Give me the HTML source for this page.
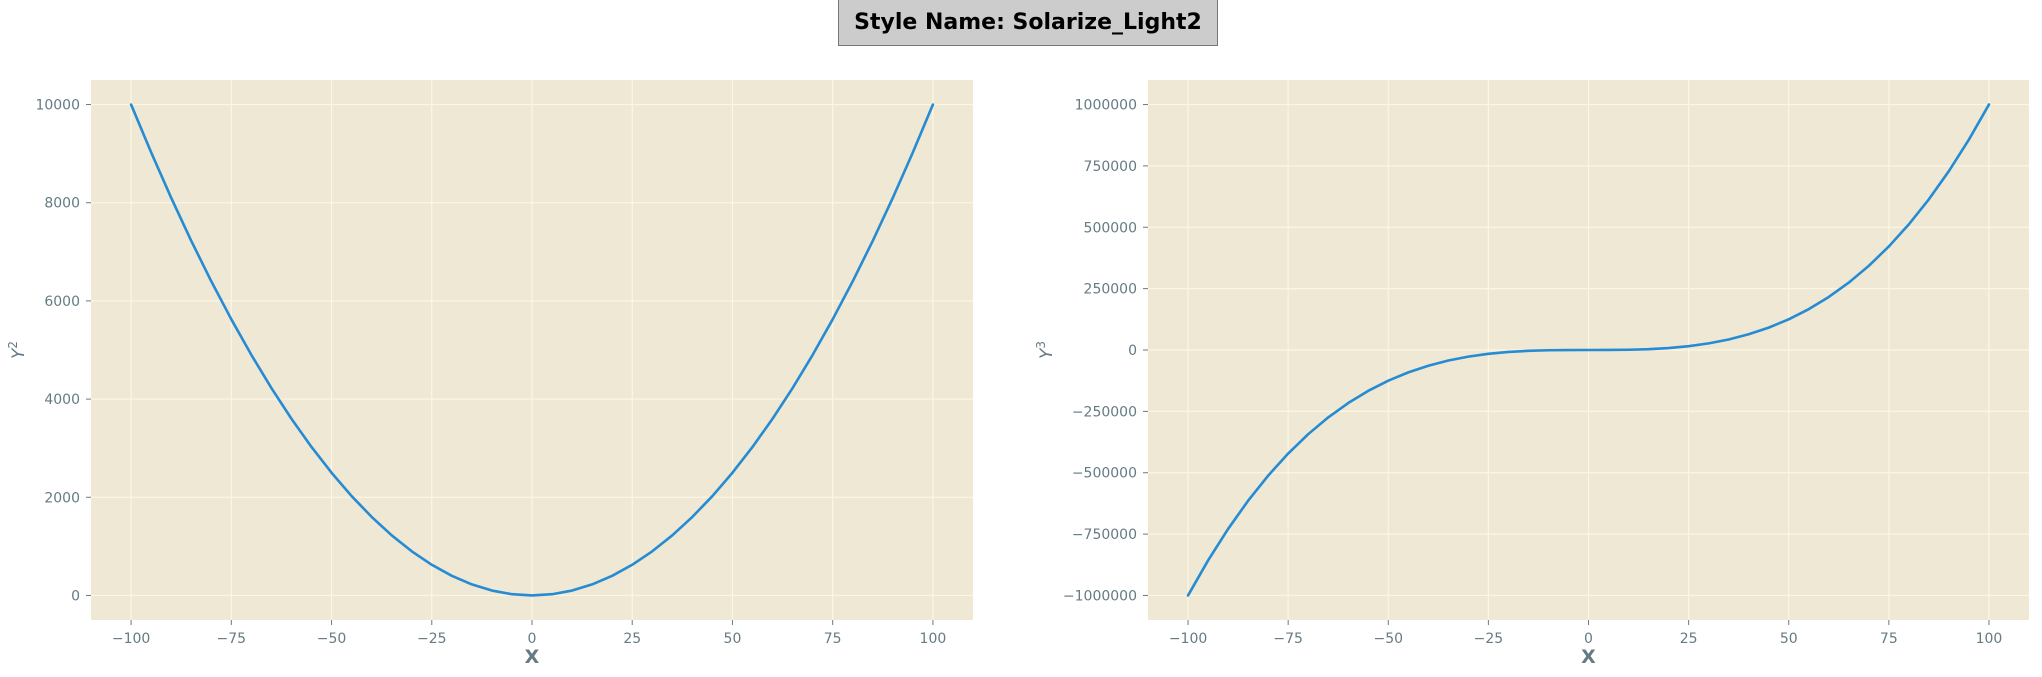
<!DOCTYPE html>
<html><head><meta charset="utf-8"><style>
html,body{margin:0;padding:0;background:#fff;width:2042px;height:677px;overflow:hidden}
svg{display:block;font-family:"DejaVu Sans","Liberation Sans",sans-serif}
</style></head><body>
<svg id="fig" width="2042" height="677">
<rect x="838.5" y="-1" width="379" height="46.5" fill="#cccccc" stroke="#777" stroke-width="1"/>
<text x="1028" y="29" text-anchor="middle" font-size="22" font-weight="bold" fill="#000">Style Name: Solarize_Light2</text>
</svg>
<script>
const xs=[-100,-95,-90,-85,-80,-75,-70,-65,-60,-55,-50,-45,-40,-35,-30,-25,-20,-15,-10,-5,0,5,10,15,20,25,30,35,40,45,50,55,60,65,70,75,80,85,90,95,100];
const ySquare=[10000,9025,8100,7225,6400,5625,4900,4225,3600,3025,2500,2025,1600,1225,900,625,400,225,100,25,0,25,100,225,400,625,900,1225,1600,2025,2500,3025,3600,4225,4900,5625,6400,7225,8100,9025,10000];
const yCube=[-1000000,-857375,-729000,-614125,-512000,-421875,-343000,-274625,-216000,-166375,-125000,-91125,-64000,-42875,-27000,-15625,-8000,-3375,-1000,-125,0,125,1000,3375,8000,15625,27000,42875,64000,91125,125000,166375,216000,274625,343000,421875,512000,614125,729000,857375,1000000];
const xTicks=[-100,-75,-50,-25,0,25,50,75,100];
const yTicksLeft=[0,2000,4000,6000,8000,10000];
const yTicksRight=[-1000000,-750000,-500000,-250000,0,250000,500000,750000,1000000];
const NS="http://www.w3.org/2000/svg";
const svg=document.getElementById('fig');
function mk(tag,attrs,parent){const e=document.createElementNS(NS,tag);for(const k in attrs)e.setAttribute(k,attrs[k]);(parent||svg).appendChild(e);return e;}
function fmt(v){return (v<0?'\u2212':'')+Math.abs(v);}
function panel(key,L,R,T,B,xmin,xmax,ymin,ymax,yT,ys,ylab,sup){
  const g=mk('g',{});
  
  
  const sx=v=>L+(v-xmin)/(xmax-xmin)*(R-L);
  const sy=v=>B-(v-ymin)/(ymax-ymin)*(B-T);
  const bg=mk('rect',{x:L,y:T,width:R-L,height:B-T,fill:'#eee8d5'},g);
  
  
  xTicks.forEach(t=>{
    const X=sx(t);
    mk('line',{x1:X,x2:X,y1:T,y2:B,stroke:'#fdf6e3','stroke-width':1.2},g);
    mk('line',{x1:X,x2:X,y1:B,y2:B+5,stroke:'#657b83','stroke-width':1},g);
    const tx=mk('text',{x:X,y:B+23,'text-anchor':'middle','font-size':14,fill:'#657b83'},g);
    tx.textContent=fmt(t);
    
    
  });
  yT.forEach(t=>{
    const Y=sy(t);
    mk('line',{x1:L,x2:R,y1:Y,y2:Y,stroke:'#fdf6e3','stroke-width':1.2},g);
    mk('line',{x1:L-5,x2:L,y1:Y,y2:Y,stroke:'#657b83','stroke-width':1},g);
    const tx=mk('text',{x:L-11,y:Y+5,'text-anchor':'end','font-size':14,fill:'#657b83'},g);
    tx.textContent=fmt(t);
    
    
  });
  let d='';
  xs.forEach((x,i)=>{d+=(i?'L':'M')+sx(x).toFixed(2)+','+sy(ys[i]).toFixed(2);});
  const p=mk('path',{d:d,fill:'none',stroke:'#268bd2','stroke-width':2.6,'stroke-linejoin':'round','stroke-linecap':'round'},g);
  
  
  const xl=mk('text',{x:(L+R)/2,y:663,'text-anchor':'middle','font-size':19,'font-weight':'bold',fill:'#657b83'},g);
  xl.textContent='X';
  
  
  const yl=mk('text',{x:0,y:0,'text-anchor':'middle','font-size':17,'font-style':'italic',fill:'#657b83',transform:'translate('+ylab+','+((T+B)/2)+') rotate(-90)'},g);
  yl.textContent='Y';
  const ts=mk('tspan',{dy:-7,'font-size':12,'font-style':'normal'},yl);
  ts.textContent=sup;
  
  
}
panel('left',91,973,80,620,-110,110,-500,10500,yTicksLeft,ySquare,24,'2');
panel('right',1148,2029,80,620,-110,110,-1100000,1100000,yTicksRight,yCube,1052,'3');
</script>
</body></html>
